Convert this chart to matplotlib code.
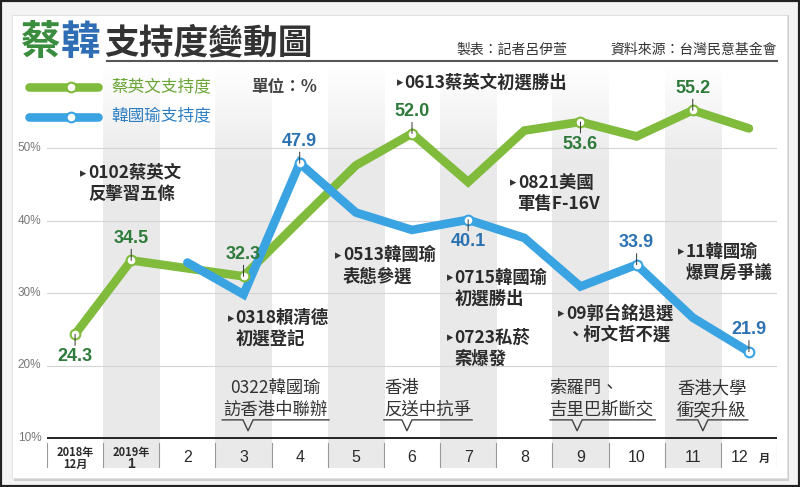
import numpy as np
import matplotlib
matplotlib.use('Agg')
import matplotlib.pyplot as plt
from matplotlib.lines import Line2D
from matplotlib.patches import Rectangle

plt.rcParams['font.family'] = ['Noto Sans CJK TC', 'DejaVu Sans']

#------------------------------------------------------------------------------
# DATA
#------------------------------------------------------------------------------
month_labels = ['2018年\n12月', '2019年\n1', '2', '3', '4', '5', '6', '7', '8', '9', '10', '11', '12']
tsai = [24.3, 34.5, 33.4, 32.3, 40.0, 47.6, 52.0, 45.3, 52.4, 53.6, 51.6, 55.2, 52.7]
han_x = [2, 3, 4, 5, 6, 7, 8, 9, 10, 11, 12]
han = [34.2, 29.8, 47.9, 41.1, 38.7, 40.1, 37.6, 30.9, 33.9, 26.6, 21.9]

# labelled points: (index into series, +1 above / -1 below)
tsai_marks = [(0, -1), (1, 1), (3, 1), (6, 1), (9, -1), (11, 1)]
han_marks = [(2, 1), (5, -1), (8, 1), (10, 1)]

shaded_months = [1, 3, 5, 7, 9, 11]
grid_levels = [10, 20, 30, 40, 50]

# events: (x of triangle, y of first line, lines)
events = [
    (0.09, 46.5, ['0102蔡英文', '反擊習五條']),
    (2.72, 26.5, ['0318賴清德', '初選登記']),
    (4.63, 35.2, ['0513韓國瑜', '表態參選']),
    (5.73, 59.0, ['0613蔡英文初選勝出']),
    (6.62, 32.1, ['0715韓國瑜', '初選勝出']),
    (6.62, 23.8, ['0723私菸', '案爆發']),
    (7.75, 45.2, ['0821美國', '軍售F-16V']),
    (8.60, 27.2, ['09郭台銘退選', '、柯文哲不選']),
    (10.74, 35.7, ['11韓國瑜', '爆買房爭議']),
]

# bottom callouts: (left, right, V position, align, lines)
callouts = [
    (2.62, 4.52, 3.08, 'center', ['0322韓國瑜', '訪香港中聯辦']),
    (5.50, 7.07, 5.91, 'left', ['香港', '反送中抗爭']),
    (8.46, 10.33, 8.94, 'left', ['索羅門、', '吉里巴斯斷交']),
    (10.72, 11.98, 11.18, 'left', ['香港大學', '衝突升級']),
]

#------------------------------------------------------------------------------
# SETTINGS
#------------------------------------------------------------------------------
GREEN = '#80bb3c'
BLUE = '#3aa3e2'
GREEN_TXT = '#2d7a3a'
BLUE_TXT = '#2c72b0'
DARK = '#2b2b2b'
BAND = np.array([0.915, 0.915, 0.915])

W, H = 800, 487
def fx(px): return px / W
def fy(py): return 1 - py / H

Y0 = 10 - (468 - 438) / 7.25
Y1 = 10 + (438 - 65) / 7.25

fig = plt.figure(figsize=(8, 4.87), dpi=100)
fig.patch.set_facecolor('#f3f3f3')

# card + shadow + outer frame
fig.add_artist(Rectangle((fx(14), fy(481)), fx(775), 466 / H, transform=fig.transFigure,
                         facecolor='#cfcfcf', edgecolor='none', zorder=0))
fig.add_artist(Rectangle((fx(12), fy(478)), fx(775), 463 / H, transform=fig.transFigure,
                         facecolor='white', edgecolor='#dddddd', lw=0.5, zorder=0))
fig.add_artist(Rectangle((0, 0), 1, 1, transform=fig.transFigure, fill=False,
                         edgecolor='#222222', lw=3, zorder=10))

#------------------------------------------------------------------------------
# TITLE / LEGEND / CREDITS
#------------------------------------------------------------------------------
fig.text(fx(21), fy(42), '蔡', fontsize=28.5, fontweight='bold', color='#3a8c3f', va='center')
fig.text(fx(61), fy(42), '韓', fontsize=28.5, fontweight='bold', color='#2f6db5', va='center')
fig.text(fx(104), fy(43), '支持度變動圖', fontsize=25, fontweight='bold', color='#333333', va='center')
fig.add_artist(Line2D([fx(107), fx(777)], [fy(61), fy(61)], color='#555555', lw=1.5,
                      transform=fig.transFigure))
fig.text(fx(456), fy(50), '製表：記者呂伊萱', fontsize=10, color='#333333', va='center')
fig.text(fx(777), fy(50), '資料來源：台灣民意基金會', fontsize=10, color='#333333', va='center', ha='right')

for py, col, tcol, name in [(87, GREEN, '#6aa636', '蔡英文支持度'), (117, BLUE, '#2f7fc2', '韓國瑜支持度')]:
    fig.add_artist(Line2D([fx(29), fx(98)], [fy(py), fy(py)], color=col, lw=6.2,
                          solid_capstyle='round', transform=fig.transFigure))
    fig.add_artist(Line2D([fx(71)], [fy(py)], marker='o', markersize=7, markerfacecolor='white',
                          markeredgecolor=col, markeredgewidth=1.5, transform=fig.transFigure))
    fig.text(fx(111), fy(py), name, fontsize=12, color=tcol, va='center')
fig.text(fx(251), fy(87), '單位：%', fontsize=12, fontweight='bold', color='#444444', va='center')

#------------------------------------------------------------------------------
# PLOT AREA
#------------------------------------------------------------------------------
ax = fig.add_axes([fx(47), fy(468), 730 / W, (468 - 65) / H])
ax.axis('off')

n = 200
alpha = np.clip(np.linspace(0, 1, n) / 0.25, 0, 1)
grad = np.zeros((n, 1, 4))
grad[:, 0, :3] = BAND
grad[:, 0, 3] = alpha
for c in shaded_months:
    ax.imshow(grad, extent=[c - 0.5, c + 0.5, Y0, Y1], aspect='auto', zorder=0, interpolation='bilinear')

for v in grid_levels:
    if v == 10:
        ax.plot([-0.5, 12.5], [v, v], color='#222222', lw=1.4, zorder=2, solid_capstyle='butt')
    else:
        ax.plot([-0.5, 12.5], [v, v], color='#d4d4d4', lw=0.8, zorder=1)
    ax.text(-0.6, v, f'{v}%', ha='right', va='center', fontsize=8.5, color='#777777',
            family='Liberation Sans')

# x tick cells
for k in range(14):
    ax.plot([k - 0.5, k - 0.5], [9.3, 6.0], color='#999999', lw=0.8, zorder=1)
for i, lab in enumerate(month_labels):
    if i == 0:
        ax.text(i, 8.0, '2018年', ha='center', va='center', fontsize=8, fontweight='bold', color=DARK)
        ax.text(i, 6.35, '12月', ha='center', va='center', fontsize=8, fontweight='bold', color=DARK)
    elif i == 1:
        ax.text(i, 8.0, '2019年', ha='center', va='center', fontsize=8, fontweight='bold', color=DARK)
        ax.text(i, 6.35, '1', ha='center', va='center', fontsize=10, fontweight='bold', color=DARK,
                family='Liberation Sans')
    elif i == 12:
        ax.text(i - 0.17, 7.3, lab, ha='center', va='center', fontsize=11.5, color=DARK, family='Liberation Sans')
    else:
        ax.text(i, 7.3, lab, ha='center', va='center', fontsize=11.5, color=DARK, family='Liberation Sans')
ax.text(12.27, 7.2, '月', ha='center', va='center', fontsize=8, fontweight='bold', color=DARK)

# series
ax.plot(range(len(tsai)), tsai, color=GREEN, lw=6.2, solid_capstyle='round', solid_joinstyle='miter', zorder=3)
ax.plot(han_x, han, color=BLUE, lw=6.2, solid_capstyle='round', solid_joinstyle='miter', zorder=4)

def mark(x, y, side, col, tcol):
    ax.plot([x], [y], marker='o', markersize=7, markerfacecolor='white', markeredgecolor=col,
            markeredgewidth=1.5, zorder=6)
    ax.annotate('', xy=(x, y), xytext=(0, 8 * side), textcoords='offset points',
                arrowprops=dict(arrowstyle='-', lw=0.7, color='#333333', shrinkA=0, shrinkB=0), zorder=7)
    ax.annotate(f'{y:.1f}', xy=(x, y), xytext=(0, 16 * side), textcoords='offset points',
                ha='center', va='center', fontsize=13, fontweight='bold', color=tcol,
                family='Liberation Sans', zorder=7)

for i, side in tsai_marks:
    mark(i, tsai[i], side, GREEN, GREEN_TXT)
for i, side in han_marks:
    mark(han_x[i], han[i], side, BLUE, BLUE_TXT)

# events
for x, y, lines in events:
    ax.text(x, y, '▸', ha='left', va='center', fontsize=9, color='#333333', family='DejaVu Sans', zorder=5)
    for j, line in enumerate(lines):
        ax.text(x + 0.14, y - j * 2.9, line, ha='left', va='center', fontsize=12.5,
                fontweight='bold', color=DARK, zorder=5)

# bottom callouts
yU, yA = 12.5, 11.0
for left, right, v, align, lines in callouts:
    ax.plot([left, v - 0.09, v, v + 0.09, right], [yU, yU, yA, yU, yU], color='#444444', lw=1.0, zorder=5)
    tx = (left + right) / 2 if align == 'center' else left
    for j, line in enumerate(lines):
        ax.text(tx, 16.9 - j * 3.05, line, ha=align, va='center', fontsize=12.5, color='#333333', zorder=5)

ax.set_xlim(-0.5, 12.5)
ax.set_ylim(Y0, Y1)

fig.savefig('out.png', dpi=100, facecolor=fig.get_facecolor())
print('** END')
